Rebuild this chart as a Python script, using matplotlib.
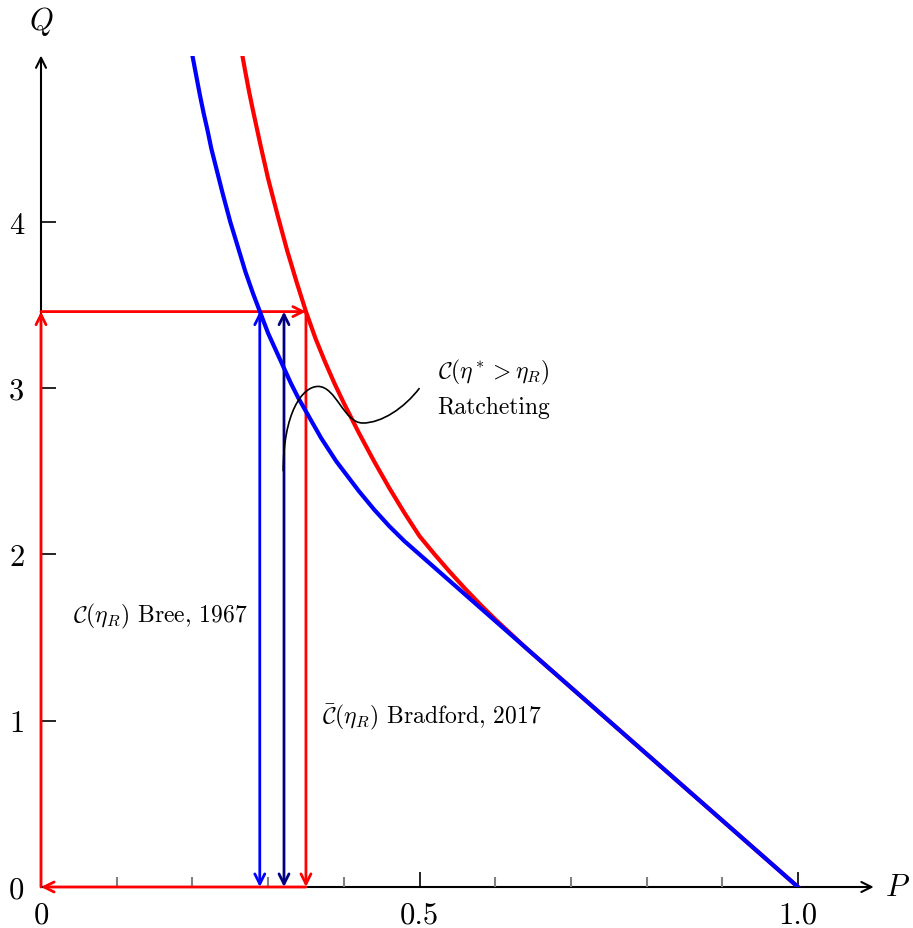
import matplotlib
matplotlib.use("Agg")
import matplotlib.pyplot as plt
from matplotlib.path import Path
from matplotlib.patches import PathPatch

# Bree (1967) ratcheting boundary C(eta_R)
bree_P = [0.200, 0.205, 0.210, 0.215, 0.220, 0.225, 0.230, 0.235, 0.240, 0.250,
          0.260, 0.270, 0.280, 0.290, 0.300, 0.310, 0.320, 0.330, 0.340, 0.350,
          0.360, 0.370, 0.380, 0.390, 0.400, 0.420, 0.440, 0.460, 0.480, 0.500,
          1.000]
bree_Q = [5.00, 4.88, 4.76, 4.65, 4.55, 4.44, 4.35, 4.26, 4.17, 4.00,
          3.85, 3.70, 3.57, 3.45, 3.33, 3.23, 3.13, 3.03, 2.94, 2.86,
          2.78, 2.70, 2.63, 2.56, 2.50, 2.38, 2.27, 2.17, 2.08, 2.00,
          0.00]

# Bradford (2017) ratcheting boundary C-bar(eta_R)
brad_P = [0.266, 0.270, 0.275, 0.280, 0.290, 0.300, 0.3125, 0.325, 0.3375,
          0.350, 0.3625, 0.375, 0.3875, 0.400, 0.420, 0.440, 0.460, 0.480,
          0.500, 0.520, 0.540, 0.560, 0.580, 0.600, 0.620, 0.640, 0.660, 1.000]
brad_Q = [5.00, 4.90, 4.78, 4.67, 4.46, 4.26, 4.04, 3.83, 3.64,
          3.46, 3.30, 3.16, 3.03, 2.91, 2.73, 2.56, 2.40, 2.25,
          2.11, 2.00, 1.895, 1.795, 1.70, 1.61, 1.525, 1.44, 1.36, 0.00]

# load cycle corner and the two intermediate load levels
cycle_P = 0.35
cycle_Q = 3.46
bree_arrow_P = 0.289
mid_arrow_P = 0.321

# leader line from the ratcheting label (cubic Bezier vertices)
leader_P = [0.320, 0.320, 0.345, 0.366, 0.390, 0.400, 0.425, 0.450, 0.480, 0.500]
leader_Q = [2.50, 2.85, 3.01, 3.01, 3.01, 2.79, 2.79, 2.79, 2.88, 3.00]

x_major = [0.0, 0.5, 1.0]
x_major_labels = ["0", "0.5", "1.0"]
x_minor = [0.1, 0.2, 0.3, 0.4, 0.6, 0.7, 0.8, 0.9]
y_major = [0, 1, 2, 3, 4]
y_major_labels = ["0", "1", "2", "3", "4"]

plt.rcParams["font.family"] = "serif"
plt.rcParams["font.serif"] = ["cmr10", "DejaVu Serif"]
plt.rcParams["mathtext.fontset"] = "cm"
plt.rcParams["axes.unicode_minus"] = False

fig = plt.figure(figsize=(9.13, 9.29), dpi=100)
ax = fig.add_axes([41 / 913, 41 / 929, 832.7 / 913, 831.5 / 929])
ax.set_xlim(0, 1.1)
ax.set_ylim(0, 5.0)
for s in ax.spines.values():
    s.set_visible(False)
ax.patch.set_visible(False)

# axes drawn as arrows
axis_kw = dict(arrowstyle="->", lw=1.5, color="black", mutation_scale=18,
               shrinkA=0, shrinkB=0)
ax.annotate("", xy=(1.1, 0), xytext=(0, 0), arrowprops=axis_kw,
            annotation_clip=False, zorder=1)
ax.annotate("", xy=(0, 5.0), xytext=(0, 0), arrowprops=axis_kw,
            annotation_clip=False, zorder=1)

# ticks
ax.set_xticks(x_major)
ax.set_xticklabels(x_major_labels)
ax.set_xticks(x_minor, minor=True)
ax.tick_params(axis="x", which="major", direction="in", length=10.8, width=1.2,
               color="black", pad=10, labelsize=22)
ax.tick_params(axis="x", which="minor", direction="in", length=7.2, width=1.5,
               color="#808080")
ax.set_yticks(y_major)
ax.set_yticklabels(y_major_labels)
ax.tick_params(axis="y", which="major", direction="in", length=10.8, width=1.2,
               color="black", pad=12, labelsize=22)

# load cycle (red rectangle of arrows)
red_kw = dict(arrowstyle="->", lw=2.0, color="red", mutation_scale=18,
              shrinkA=0, shrinkB=0)
ax.annotate("", xy=(0, cycle_Q), xytext=(0, 0), arrowprops=red_kw,
            annotation_clip=False, zorder=2)
ax.annotate("", xy=(cycle_P, cycle_Q), xytext=(0, cycle_Q), arrowprops=red_kw,
            annotation_clip=False, zorder=2)
ax.annotate("", xy=(cycle_P, 0), xytext=(cycle_P, cycle_Q), arrowprops=red_kw,
            annotation_clip=False, zorder=2)
ax.annotate("", xy=(0, 0), xytext=(cycle_P, 0), arrowprops=red_kw,
            annotation_clip=False, zorder=2)

# intermediate cycles (double arrows)
ax.annotate("", xy=(bree_arrow_P, cycle_Q), xytext=(bree_arrow_P, 0),
            arrowprops=dict(arrowstyle="<->", lw=2.0, color="blue",
                            mutation_scale=18, shrinkA=0, shrinkB=0),
            annotation_clip=False, zorder=2)
ax.annotate("", xy=(mid_arrow_P, cycle_Q), xytext=(mid_arrow_P, 0),
            arrowprops=dict(arrowstyle="<->", lw=2.0, color="#000080",
                            mutation_scale=18, shrinkA=0, shrinkB=0),
            annotation_clip=False, zorder=2)

# boundaries
ax.plot(brad_P, brad_Q, color="red", lw=3.0, solid_joinstyle="round", zorder=3)
ax.plot(bree_P, bree_Q, color="blue", lw=3.0, solid_joinstyle="round", zorder=3.5)

# leader line
codes = [Path.MOVETO] + [Path.CURVE4] * (len(leader_P) - 1)
leader = Path(list(zip(leader_P, leader_Q)), codes)
ax.add_patch(PathPatch(leader, facecolor="none", edgecolor="black", lw=1.2,
                       zorder=4))

# labels
ax.text(0.598, 3.10, r"$\mathcal{C}(\eta^* > \eta_R)$", ha="center",
        va="center", fontsize=17)
ax.text(0.598, 2.886, "Ratcheting", ha="center", va="center", fontsize=17)
ax.text(0.157, 1.63, r"$\mathcal{C}(\eta_R)$ Bree, 1967", ha="center",
        va="center", fontsize=17)
ax.text(0.371, 1.03, r"$\bar{\mathcal{C}}(\eta_R)$ Bradford, 2017", ha="left",
        va="center", fontsize=17)

ax.text(0.0, 5.21, r"$Q$", ha="center", va="center", fontsize=22, clip_on=False)
ax.text(1.132, 0.0, r"$P$", ha="center", va="center", fontsize=22, clip_on=False)

fig.savefig("out.png", dpi=100)
